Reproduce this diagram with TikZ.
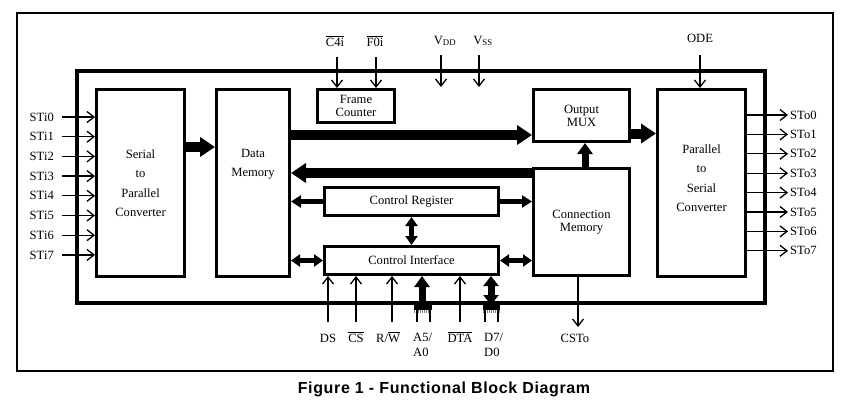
\documentclass[tikz,border=0pt]{standalone}
\usepackage{fontspec}
\setmainfont{Liberation Serif}
\newfontfamily\capfont[LetterSpace=4]{Liberation Sans}
\usetikzlibrary{arrows.meta}

\begin{document}
\begin{tikzpicture}[x=1pt, y=-1pt,
    every node/.style={font=\fontsize{12.6}{13}\selectfont, inner sep=0pt},
    block/.style={draw, line width=3pt, align=center},
    sig/.style={line width=1.3pt, -{Straight Barb[length=7pt, width=11pt, line width=1.3pt]}},
    bus/.style={line width=10pt, -{Triangle[length=15pt, width=19pt]}},
    ubus/.style={line width=7pt, -{Triangle[length=11pt, width=15pt]}},
    udbus/.style={line width=7pt, {Triangle[length=10pt, width=15pt]}-{Triangle[length=10pt, width=15pt]}},
    mbus/.style={line width=4.5pt, -{Triangle[length=10pt, width=12pt]}},
    dbus/.style={line width=4.5pt, {Triangle[length=9pt, width=12pt]}-{Triangle[length=9pt, width=12pt]}},
]
    \useasboundingbox (0,0) rectangle (859,410);
    \draw[line width=1.3pt] (17,13) rectangle (833,371);

    % chip outline and blocks
    \node[draw, line width=4pt, minimum width=688pt, minimum height=232pt] (chip) at (421,187) {};
    \node[block, minimum width=88pt, minimum height=187pt] (sp) at (140.5,183) {Serial\\[6.5pt]to\\[6.5pt]Parallel\\[6.5pt]Converter};
    \node[block, minimum width=73pt, minimum height=187pt,
        label={[align=center, yshift=19pt]center:{Data\\[6.5pt]Memory}}] (dm) at (253,183) {};
    \node[block, minimum width=77pt, minimum height=33pt] (fc) at (356,106) {Frame\\Counter};
    \node[block, minimum width=96pt, minimum height=52pt] (mux) at (581.5,115.5) {Output\\MUX};
    \node[block, minimum width=88pt, minimum height=187pt,
        label={[align=center, yshift=5pt]center:{Parallel\\[6.5pt]to\\[6.5pt]Serial\\[6.5pt]Converter}}] (ps) at (701.5,183) {};
    \node[block, minimum width=96pt, minimum height=107pt] (cm) at (581.5,222) {Connection\\Memory};
    \node[block, minimum width=174pt, minimum height=28pt] (cr) at (411.5,201.5) {Control Register};
    \node[block, minimum width=174pt, minimum height=28pt] (ci) at (411.5,260.5) {Control Interface};

    % buses
    \draw[bus] (sp.east |- 0,147) -- (dm.west |- 0,147);
    \draw[bus] (dm.east |- 0,135) -- (mux.west |- 0,135);
    \draw[bus] (cm.west |- 0,173) -- (dm.east |- 0,173);
    \draw[bus] (mux.east |- 0,133.5) -- (ps.west |- 0,133.5);
    \draw[ubus] (cm.north -| 585,0) -- (mux.south -| 585,0);
    \draw[mbus] (cr.west) -- (dm.east |- cr.west);
    \draw[mbus] (cr.east) -- (cm.west |- cr.east);
    \draw[dbus] (cr.south) -- (ci.north);
    \draw[dbus] (ci.west) -- (dm.east |- ci.west);
    \draw[dbus] (ci.east) -- (cm.west |- ci.east);

    % serial inputs and outputs
    \foreach \i in {0,...,7} {
        \node[anchor=east] (sti\i) at (54,{117+19.7*\i}) {STi\i};
        \draw[sig] ([xshift=8pt]sti\i.east) -- (sp.west |- sti\i.east);
        \node[anchor=west] (sto\i) at (790,{115+19.4*\i}) {STo\i};
        \draw[sig] (ps.east |- sto\i.west) -- ([xshift=-2pt]sto\i.west);
    }

    % top pins
    \node[anchor=base] (c4i) at (335,46) {$\overline{\hbox{C4i}}$};
    \node[anchor=base] (f0i) at (375,46) {$\overline{\hbox{F0i}}$};
    \node[anchor=base] (vdd) at (445,44) {V\textsubscript{DD}};
    \node[anchor=base] (vss) at (483,44) {V\textsubscript{SS}};
    \node[anchor=base] (ode) at (700,42) {ODE};
    \draw[sig] ([xshift=2pt, yshift=-11pt]c4i.base) -- (fc.north -| 337,0);
    \draw[sig] ([xshift=1pt, yshift=-11pt]f0i.base) -- (fc.north -| 376,0);
    \draw[sig] ([xshift=-4pt, yshift=-11pt]vdd.base) -- ++(0,32);
    \draw[sig] ([xshift=-4pt, yshift=-11pt]vss.base) -- ++(0,32);
    \draw[sig] ([yshift=-13pt]ode.base) -- (ps.north -| ode.base);

    % bottom pins
    \node[anchor=base] (ds) at (328,342) {DS};
    \node[anchor=base] (cs) at (356,342) {$\overline{\hbox{CS}}$};
    \node[anchor=base] (rw) at (388,342) {R/$\overline{\hbox{W}}$};
    \node[anchor=base] (dta) at (460,342) {$\overline{\hbox{DTA}}$};
    \node[anchor=north west, align=left] (addr) at (413,333) {A5/\\[2pt]A0};
    \node[anchor=north west, align=left] (data) at (484,333) {D7/\\[2pt]D0};
    \node[anchor=base] (csto) at (575,342) {CSTo};
    \foreach \p in {ds,cs,dta}
        \draw[sig] ([yshift=20pt]\p.base) -- (ci.south -| \p.base);
    \draw[sig] ([xshift=4pt, yshift=20pt]rw.base) -- (ci.south -| 392,0);
    \draw[ubus] (chip.south -| 422,0) -- (ci.south -| 422,0);
    \draw[udbus] (chip.south -| 491,0) -- (ci.south -| 491,0);
    \draw[sig] (cm.south -| 578,0) -- ([xshift=3pt, yshift=15pt]csto.base);

    % bus stubs
    \fill (414,302) rectangle (432,310);
    \fill (483,302) rectangle (500,310);
    \draw[gray, line width=2.5pt, dash pattern=on 1pt off 1pt] (414,311.5) -- (432,311.5) (483,311.5) -- (500,311.5);
    \draw[line width=1.3pt] (417,310) -- (417,322) (430,310) -- (430,322)
        (485,310) -- (485,322) (498,310) -- (498,322);

    \node[font=\capfont\bfseries\fontsize{16}{18}\selectfont] (cap) at (444,389) {Figure 1 - Functional Block Diagram};
\end{tikzpicture}
\end{document}
